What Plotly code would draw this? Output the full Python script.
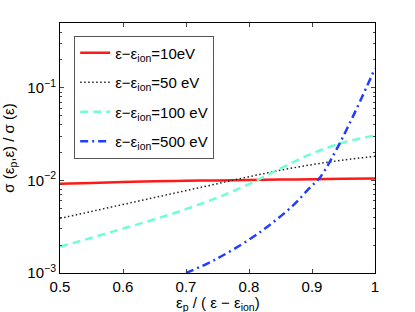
import plotly.graph_objects as go

x_main = [0.5, 0.55, 0.6, 0.65, 0.7, 0.75, 0.8, 0.85, 0.9, 0.95, 1.0]
y_10 = [0.0092, 0.0094, 0.0096, 0.0098, 0.0099, 0.0100, 0.0101, 0.0102, 0.0103, 0.0104, 0.0105]
y_50 = [0.003890, 0.004624, 0.005495, 0.006531, 0.007762, 0.009226, 0.010965, 0.012882, 0.014791, 0.016596, 0.018197]
y_100 = [0.001928, 0.002399, 0.003020, 0.003802, 0.004898, 0.006531, 0.009120, 0.013490, 0.019498, 0.025704, 0.030549]
x_500 = [0.70, 0.745, 0.80, 0.835, 0.87, 0.895, 0.913, 0.937, 0.955, 0.976, 1.0]
y_500 = [0.001, 0.00138, 0.00229, 0.00339, 0.00537, 0.00813, 0.01084, 0.02042, 0.03548, 0.07079, 0.1622]

names = ["ε−ε<sub>ion</sub>=10eV", "ε−ε<sub>ion</sub>=50 eV",
         "ε−ε<sub>ion</sub>=100 eV", "ε−ε<sub>ion</sub>=500 eV"]
x_title = "ε<sub>p</sub> / ( ε − ε<sub>ion</sub>)"
y_title = "σ (ε<sub>p</sub>,ε) / σ (ε)"

x_ticks = [0.5, 0.6, 0.7, 0.8, 0.9, 1.0]
x_ticktext = ["0.5", "0.6", "0.7", "0.8", "0.9", "1"]
y_ticks = [1e-3, 1e-2, 1e-1]
y_ticktext = ["10<sup>−3</sup>", "10<sup>−2</sup>", "10<sup>−1</sup>"]
y_minor = [m * 10.0 ** e for e in (-3, -2, -1) for m in range(2, 10)]

fig = go.Figure()
fig.add_trace(go.Scatter(x=x_main, y=y_10, mode="lines", name=names[0], legendgroup="a",
                         line=dict(color="#ff1a1a", width=2.5), line_shape="spline"))
fig.add_trace(go.Scatter(x=x_main, y=y_50, mode="lines", name=names[1], legendgroup="b",
                         line=dict(color="#222222", width=1.5, dash="1.5px,2.5px"), line_shape="spline"))
fig.add_trace(go.Scatter(x=x_main, y=y_100, mode="lines", name=names[2], legendgroup="c",
                         line=dict(color="#6fffd8", width=2.5, dash="8px,5px"), line_shape="spline"))
fig.add_trace(go.Scatter(x=x_500, y=y_500, mode="lines", name=names[3], legendgroup="d",
                         line=dict(color="#1f3fff", width=2.5, dash="8px,4px,2px,4px"), line_shape="spline"))

font = "Liberation Sans, Arial, sans-serif"
fig.update_layout(
    width=415, height=312,
    margin=dict(l=60, r=40, t=23, b=39),
    paper_bgcolor="white", plot_bgcolor="white",
    font=dict(family=font, size=15, color="black"),
    showlegend=True,
    legend=dict(x=0.045, y=0.95, xanchor="left", yanchor="top",
                bgcolor="white", bordercolor="#555555", borderwidth=1,
                font=dict(size=15), itemwidth=30, tracegroupgap=7),
    xaxis=dict(range=[0.5, 1.0], tickvals=x_ticks, ticktext=x_ticktext,
               ticks="inside", ticklen=4, showline=True, linecolor="black",
               linewidth=1, mirror="ticks", showgrid=False, zeroline=False,
               tickfont=dict(size=15), automargin=False),
    yaxis=dict(type="log", range=[-3, -0.3], tickvals=y_ticks, ticktext=y_ticktext,
               ticks="inside", ticklen=4, showline=True, linecolor="black",
               linewidth=1, mirror="ticks", showgrid=False, zeroline=False,
               tickfont=dict(size=15), automargin=False,
               minor=dict(tickvals=y_minor, ticks="inside", ticklen=2, showgrid=False),
               title=dict(text=y_title, font=dict(size=15), standoff=11)),
    annotations=[dict(text=x_title, xref="paper", yref="paper", x=0.5, y=0,
                      xanchor="center", yanchor="top", yshift=-19, showarrow=False,
                      font=dict(size=15))],
)
fig.write_html("out.html", config={"displayModeBar": False},
               post_script="document.body.style.margin='0';")
